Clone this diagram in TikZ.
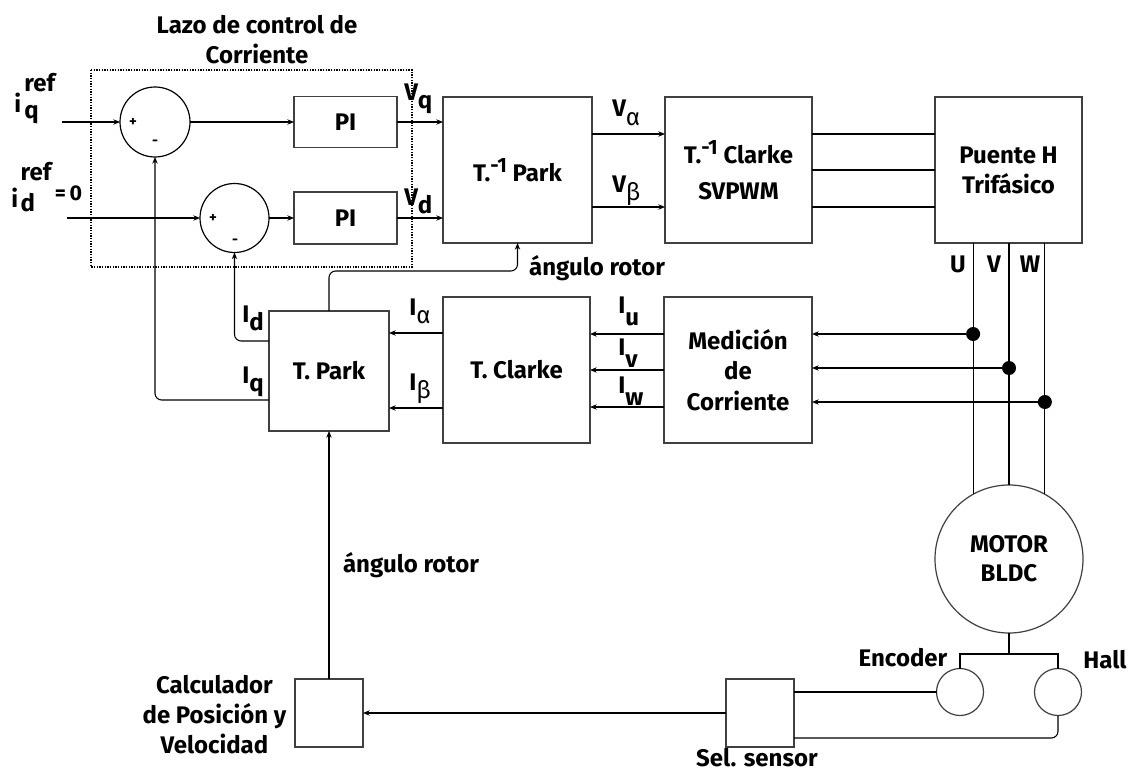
\documentclass[tikz,border=0pt]{standalone}
\usepackage{fontspec}
\setmainfont{Fira Sans}
\usetikzlibrary{arrows.meta,calc}
\newcommand\sbs[2]{#1\raisebox{-6.5pt}{#2}}
\newcommand\sbl[2]{#1\raisebox{-9.5pt}{#2}}
\newcommand\grs[2]{#1\raisebox{-6.5pt}{\mdseries #2}}
\newcommand\invT{T.\raisebox{7pt}{\fontsize{15.5}{15.5}\selectfont -1}}
\begin{document}
\begin{tikzpicture}[x=0.75pt,y=-0.75pt,
  every node/.style={font=\bfseries\fontsize{18}{22.5}\selectfont},
  blk/.style={draw=black!75, line width=1.3pt, fill=white, inner sep=0pt, outer sep=0pt, align=center},
  sumc/.style={circle, draw, line width=0.9pt, inner sep=0pt, outer sep=0pt},
  thinc/.style={circle, draw=black!75, line width=0.9pt, inner sep=0pt, outer sep=0pt, align=center},
  ln/.style={line width=0.8pt},
  arr/.style={ln, -{Stealth[length=5pt,width=4pt]}},
  dotn/.style={circle, fill, inner sep=0pt, outer sep=0pt, minimum size=10.5pt},
  lab/.style={anchor=base west, inner sep=0pt},
  sgn/.style={font=\bfseries\fontsize{11}{11}\selectfont, inner sep=0pt}]
\fill[white] (0,0) rectangle (1131,774);
\useasboundingbox (0,0) rectangle (1131,774);

% dotted loop frame and title
\draw[line width=0.8pt, dash pattern=on 1pt off 1pt] (91,70) rectangle (412,267);
\node[align=center] (title) at (257,40) {Lazo de control de\\Corriente};

% summing junctions
\node[sumc, minimum size=52.5pt] (S1) at (155,122) {};
\node[sumc, minimum size=51.75pt] (S2) at (234.5,218) {};
\node[sgn] (p1) at (133,122) {+};
\node[sgn] (m1) at (155,143) {-};
\node[sgn] (p2) at (213,218) {+};
\node[sgn] (m2) at (235,242) {-};

% PI blocks
\node[blk, minimum width=77.25pt, minimum height=38.25pt] (PI1) at (345.5,122) {PI};
\node[blk, minimum width=77.25pt, minimum height=39pt] (PI2) at (345.5,218) {PI};

% main blocks
\node[blk, minimum width=111.75pt, minimum height=109.5pt] (IP) at (517.5,170) {\invT{} Park};
\node[blk, minimum width=110.25pt, minimum height=109.5pt, font=\bfseries\fontsize{18}{27}\selectfont] (SV) at (738.5,170) {\invT{} Clarke\\SVPWM};
\node[blk, minimum width=110.25pt, minimum height=109.5pt] (PH) at (1008.5,170) {Puente H\\Trifásico};
\node[blk, minimum width=90pt, minimum height=90pt] (TP) at (329,371) {T. Park};
\node[blk, minimum width=110.25pt, minimum height=109.5pt] (TC) at (516.5,370) {T. Clarke};
\node[blk, minimum width=111pt, minimum height=109.5pt, font=\bfseries\fontsize{18}{23}\selectfont] (ME) at (738,370) {Medición\\de\\Corriente};
\node[thinc, minimum size=111pt, font=\bfseries\fontsize{18}{22}\selectfont] (M) at (1009,559) {MOTOR\\BLDC};
\node[thinc, minimum size=35.25pt] (EN) at (960,692) {};
\node[thinc, minimum size=35.25pt] (HA) at (1058,692) {};
\node[blk, minimum width=51pt, minimum height=51pt] (SE) at (760,713) {};
\node[blk, minimum width=51pt, minimum height=51pt] (CA) at (329,713) {};

% inputs
\coordinate (iqin) at (62,122);
\coordinate (idin) at (67,218);
\node[lab] (iqlab) at (14,113) {i\hspace{2.5pt}\rlap{\raisebox{-4pt}{q}}\raisebox{16pt}{ref}};
\node[lab] (idlab) at (11,207) {i\hspace{2pt}\rlap{\raisebox{-3pt}{d}}\raisebox{20pt}{ref}\raisebox{5pt}{\fontsize{16}{16}\selectfont\,=\,0}};
\draw[arr] (iqin) -- (S1.west);
\draw[arr] (idin) -- (S2.west);
\draw[arr] (S1.east) -- (PI1.west);
\draw[arr] (S2.east) -- (PI2.west);
\draw[arr] (PI1.east) -- (PI1.east -| IP.west);
\draw[arr] (PI2.east) -- (PI2.east -| IP.west);
\node[lab] (vq) at (404,100) {\sbs{V}{q}};
\node[lab] (vd) at (404,205) {\sbs{V}{d}};

% inverse Park -> SVPWM
\draw[arr] ([yshift=27pt]IP.east) -- ([yshift=27pt]SV.west);
\draw[arr] ([yshift=-27.75pt]IP.east) -- ([yshift=-27.75pt]SV.west);
\node[lab] (va) at (612,117) {\grs{V}{α}};
\node[lab] (vb) at (612,192) {\grs{V}{β}};

% SVPWM -> bridge
\draw[ln] ([yshift=27pt]SV.east) -- ([yshift=27pt]PH.west);
\draw[ln] (SV.east) -- (PH.west);
\draw[ln] ([yshift=-27.75pt]SV.east) -- ([yshift=-27.75pt]PH.west);

% phases to motor
\draw[ln] (M.119 |- PH.south) -- (M.119);
\draw[ln] (M.north |- PH.south) -- (M.north);
\draw[ln] (M.61 |- PH.south) -- (M.61);
\node (U) at (958,264) {U};
\node (V) at (994,264) {V};
\node (W) at (1030,264) {W};

% current sensing
\node[dotn] (du) at (M.119 |- 0,334) {};
\node[dotn] (dv) at (M.north |- 0,368) {};
\node[dotn] (dw) at (M.61 |- 0,402) {};
\draw[arr] (du) -- (du -| ME.east);
\draw[arr] (dv) -- (dv -| ME.east);
\draw[arr] (dw) -- (dw -| ME.east);
\draw[arr] ([yshift=27pt]ME.west) -- ([yshift=27pt]ME.west -| TC.east);
\draw[arr] (ME.west) -- (ME.west -| TC.east);
\draw[arr] ([yshift=-27.75pt]ME.west) -- ([yshift=-27.75pt]ME.west -| TC.east);
\node[lab] (iu) at (618,313) {\sbl{I}{u}};
\node[lab] (iv) at (618,355) {\sbl{I}{v}};
\node[lab] (iw) at (618,393) {\sbl{I}{w}};

% Clarke -> Park
\draw[arr] ([yshift=27.75pt]TC.west) -- ([yshift=27.75pt]TC.west -| TP.east);
\draw[arr] ([yshift=-28.5pt]TC.west) -- ([yshift=-28.5pt]TC.west -| TP.east);
\node[lab] (ia) at (409,315) {\grs{I}{α}};
\node[lab] (ib) at (409,390) {\grs{I}{β}};

% feedback to summing junctions
\draw[arr, rounded corners=5pt] ([yshift=22.5pt]TP.west) -| (S2.south);
\draw[arr, rounded corners=5pt] ([yshift=-21.75pt]TP.west) -| (S1.south);
\node[lab] (id) at (242,322) {\sbs{I}{d}};
\node[lab] (iqf) at (242,383) {\sbs{I}{q}};

% rotor angle to inverse Park
\draw[arr, rounded corners=5pt] (TP.north) -- ++(0,-40) -| (IP.south);
\node (ang1) at (597,268) {ángulo rotor};

% position calculator
\draw[arr] (CA.north) -- (TP.south);
\node (ang2) at (411,565) {ángulo rotor};
\node[align=center, anchor=east] (calab) at (291,715) {Calculador\\de Posición y\\Velocidad};
\draw[arr] (SE.west) -- (CA.east);
\node[anchor=base, inner sep=0pt] (selab) at (757,766) {Sel. sensor};

% sensors
\draw[ln] (M.south) -- ++(0,21) coordinate (mj);
\draw[ln] (EN.north) |- (mj) -| (HA.north);
\draw[ln] (SE.east |- EN.west) -- (EN.west);
\draw[ln, rounded corners=5pt] ([yshift=-18.75pt]SE.east) -| (HA.south);
\node (enlab) at (903,658) {Encoder};
\node (halab) at (1105,660) {Hall};
\end{tikzpicture}
\end{document}
